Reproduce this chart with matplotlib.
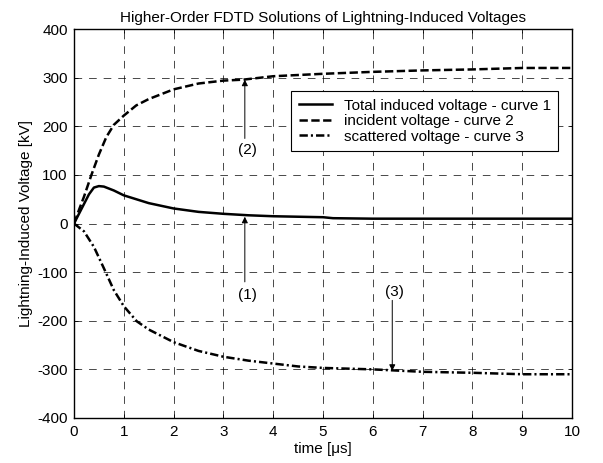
import matplotlib
matplotlib.use('Agg')
from matplotlib import pyplot as plt

plt.rcParams['font.family'] = ['Liberation Sans', 'DejaVu Sans']
plt.rcParams['font.size'] = 11
plt.rcParams['lines.scale_dashes'] = False
plt.rcParams['axes.unicode_minus'] = False

# === Curves (time in us, voltage in kV) ===
t_total = [0, 0.1, 0.2, 0.3, 0.4, 0.5, 0.6, 0.8, 1.0, 1.5, 2.0, 2.5, 3.0,
           3.5, 4.0, 4.5, 5.0, 5.2, 6, 7, 8, 9, 10]
v_total = [0, 20, 40, 60, 74, 77, 76, 68, 58, 42, 31, 24, 20,
           17, 15, 14, 13, 11, 10, 10, 10, 10, 10]

t_incident = [0, 0.1, 0.2, 0.35, 0.5, 0.65, 0.8, 1.0, 1.25, 1.5, 2.0, 2.5, 3.0,
              3.4, 4.0, 5.0, 6.0, 7.0, 8.0, 9.0, 10]
v_incident = [0, 28, 55, 100, 142, 178, 203, 222, 243, 256, 276, 288, 294,
              296, 303, 308, 312, 315, 317, 320, 320]

t_scattered = [0, 0.2, 0.4, 0.6, 0.8, 1.0, 1.26, 1.5, 2.0, 2.5, 3.0, 3.5,
               4.0, 4.5, 5.0, 6.0, 7.0, 8.0, 9.0, 10]
v_scattered = [0, -16, -48, -92, -137, -170, -201, -218, -244, -262, -274, -282,
               -288, -294, -297, -300, -305, -307, -310, -310]

# annotations: label, arrow x, tail y, tip y, text y
notes = [('(1)', 3.43, -120, 14, -148),
         ('(2)', 3.43, 175, 296, 152),
         ('(3)', 6.39, -158, -303, -141)]

xticks = list(range(0, 11))
yticks = list(range(-400, 401, 100))

fig = plt.figure(figsize=(6.03, 4.63), dpi=100, facecolor='white')
ax = fig.add_axes([0.1227, 0.0972, 0.826, 0.840])

ax.plot(t_total, v_total, color='k', lw=1.8, solid_joinstyle='round',
        label='Total induced voltage - curve 1')
ax.plot(t_incident, v_incident, color='k', lw=1.8, linestyle=(0, (6, 2.5)),
        label='incident voltage - curve 2')
ax.plot(t_scattered, v_scattered, color='k', lw=1.8,
        linestyle=(0, (6, 2.2, 1.5, 2.2)),
        label='scattered voltage - curve 3')

for lab, x, y0, y1, ytxt in notes:
    ax.annotate('', xy=(x, y1), xytext=(x, y0),
                arrowprops=dict(arrowstyle='-|>', color='k', lw=0.7,
                                mutation_scale=9, shrinkA=0, shrinkB=0))
    ax.text(x + 0.05, ytxt, lab, ha='center', va='center')

ax.set_xlim(0, 10)
ax.set_ylim(-400, 400)
ax.set_xticks(xticks)
ax.set_yticks(yticks)
ax.tick_params(direction='in', top=True, right=True, length=3, width=0.6,
               labelsize=11)
ax.tick_params(axis='x', pad=5)
ax.tick_params(axis='y', pad=4.5)
ax.grid(True, color='k', linestyle=(0, (5.5, 5)), linewidth=0.5)
for s in ax.spines.values():
    s.set_linewidth(1.0)

ax.set_title('Higher-Order FDTD Solutions of Lightning-Induced Voltages',
             fontsize=11, pad=5)
ax.set_xlabel('time [\u03bcs]', labelpad=2)
ax.set_ylabel('Lightning-Induced Voltage [kV]', labelpad=3)

leg = ax.legend(loc='upper right', bbox_to_anchor=(0.9725, 0.841),
                borderaxespad=0, fancybox=False, framealpha=1,
                edgecolor='k', handlelength=2.2, handletextpad=0.75,
                labelspacing=0.1, borderpad=0.5, fontsize=11)
leg.get_frame().set_linewidth(0.8)

fig.savefig('out.png', dpi=100)
